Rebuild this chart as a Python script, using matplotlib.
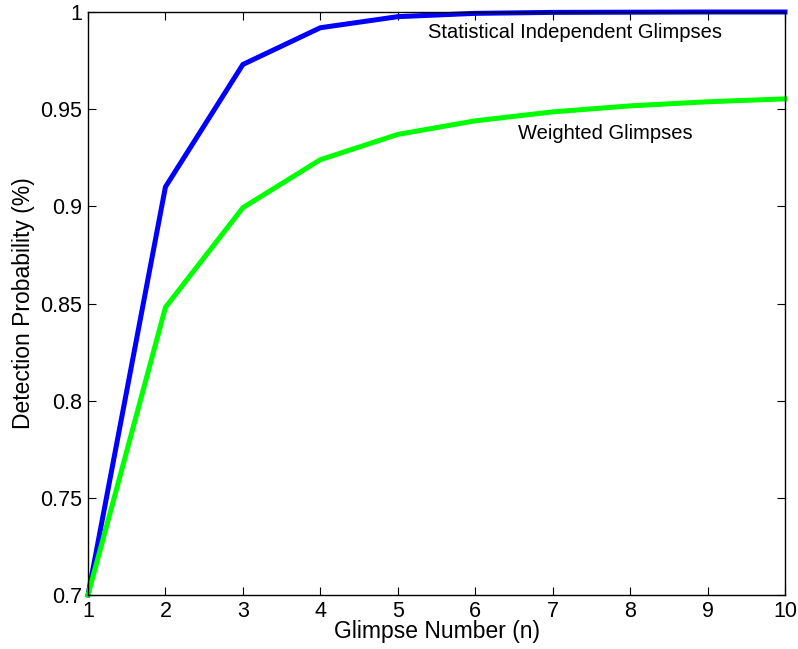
import matplotlib
matplotlib.use("Agg")
import matplotlib.pyplot as plt

plt.rcParams['font.family'] = ['Liberation Sans', 'DejaVu Sans']

glimpse_n = [1, 2, 3, 4, 5, 6, 7, 8, 9, 10]
independent = [0.70, 0.910, 0.973, 0.9919, 0.9976, 0.9993, 0.9998, 0.9999, 1.0, 1.0]
weighted = [0.70, 0.848, 0.8993, 0.924, 0.937, 0.944, 0.9486, 0.9517, 0.9538, 0.9553]

fig = plt.figure(figsize=(7.98, 6.49), dpi=100)
ax = fig.add_axes([88 / 798, 54 / 649, 697 / 798, 583 / 649])

ax.plot(glimpse_n, independent, color=(0, 0, 1), lw=3.6, solid_joinstyle='miter', clip_on=False)
ax.plot(glimpse_n, weighted, color=(0, 1, 0), lw=3.6, solid_joinstyle='miter', clip_on=False)

ax.text(7.29, 0.9897, 'Statistical Independent Glimpses', ha='center', va='center', fontsize=14.5)
ax.text(7.68, 0.9373, 'Weighted Glimpses', ha='center', va='center', fontsize=14.5)

ax.set_xlim(1, 10)
ax.set_ylim(0.7, 1.0)
ax.set_xticks(range(1, 11))
ax.set_yticks([0.7, 0.75, 0.8, 0.85, 0.9, 0.95, 1.0])
ax.set_yticklabels(['0.7', '0.75', '0.8', '0.85', '0.9', '0.95', '1'])
ax.tick_params(direction='in', length=6, width=0.8, labelsize=15.5, top=True, right=True,
               labeltop=False, labelright=False, pad=4)
for s in ax.spines.values():
    s.set_linewidth(1.0)

ax.set_xlabel('Glimpse Number (n)', fontsize=16.5, labelpad=-1)
ax.set_ylabel('Detection Probability (%)', fontsize=16.5, labelpad=4)

fig.savefig('out.png', dpi=100)
